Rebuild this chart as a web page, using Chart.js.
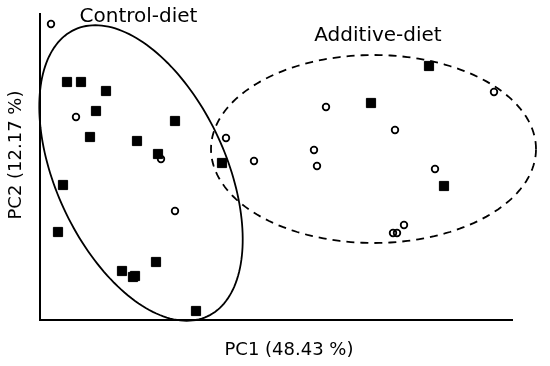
<!DOCTYPE html>
<html>
<head>
<meta charset="utf-8">
<script src="https://cdn.jsdelivr.net/npm/chart.js@4/dist/chart.umd.min.js"></script>
<style>
  html, body { margin: 0; padding: 0; background: #fff; }
  #wrap { width: 550px; height: 366px; }
</style>
</head>
<body>
<div id="wrap"><canvas id="pca"></canvas></div>
<script>
// PC scores (arbitrary units, origin at the axes corner)
const squaresPC1 = [2.7, 4.1, 6.6, 5.6, 5.0, 13.5, 9.7, 11.8, 18.2, 2.3, 1.8, 8.2, 9.3, 9.5, 11.6, 15.6, 33.1, 38.9, 40.4];
const squaresPC2 = [23.8, 23.8, 22.9, 20.9, 18.3, 19.9, 17.9, 16.6, 15.7, 13.5, 8.8, 4.9, 4.3, 4.4, 5.8, 0.9, 21.7, 25.4, 13.4];
const circlesPC1 = [1.1, 3.6, 12.1, 18.6, 21.4, 13.5, 28.6, 35.5, 27.4, 27.7, 39.5, 45.4, 35.3, 35.7, 36.4];
const circlesPC2 = [29.6, 20.3, 16.1, 18.2, 15.9, 10.9, 21.3, 19.0, 17.0, 15.4, 15.1, 22.8, 8.7, 8.7, 9.5];

// group ellipses: centre, semi-axes and tilt (degrees) in PC units
const groupNames = ["Control-diet", "Additive-diet"];
const ellipseCentre = [[10.1, 14.7], [33.35, 17.1]];
const ellipseAxes = [[15.8, 8.5], [16.25, 9.4]];
const ellipseTilt = [114.8, 0];

const axisTitles = ["PC1 (48.43 %)", "PC2 (12.17 %)"];

const pts = (xs, ys) => xs.map((x, i) => ({ x, y: ys[i] }));

const decor = {
    id: "decor",
    beforeDatasetsDraw(chart) {
        const ctx = chart.ctx;
        const sx = chart.scales.x, sy = chart.scales.y;
        ctx.save();
        ctx.strokeStyle = "#000";
        ctx.lineWidth = 1.8;
        ellipseCentre.forEach((c, k) => {
            const [a, b] = ellipseAxes[k];
            const th = ellipseTilt[k] * Math.PI / 180;
            ctx.setLineDash(k === 1 ? [8, 6] : []);
            ctx.beginPath();
            for (let i = 0; i <= 180; i++) {
                const t = (i / 180) * Math.PI * 2;
                const u = a * Math.cos(t), v = b * Math.sin(t);
                const px = sx.getPixelForValue(c[0] + u * Math.cos(th) - v * Math.sin(th));
                const py = sy.getPixelForValue(c[1] + u * Math.sin(th) + v * Math.cos(th));
                if (i === 0) ctx.moveTo(px, py); else ctx.lineTo(px, py);
            }
            ctx.closePath();
            ctx.stroke();
        });
        ctx.restore();
    },
    afterDraw(chart) {
        const ctx = chart.ctx;
        const area = chart.chartArea;
        const sx = chart.scales.x, sy = chart.scales.y;
        ctx.save();
        ctx.fillStyle = "#000";
        ctx.textAlign = "center";
        ctx.textBaseline = "middle";

        ctx.font = "20px 'DejaVu Sans'";
        ctx.fillText(groupNames[0], sx.getPixelForValue(9.85), sy.getPixelForValue(30.3));
        ctx.fillText(groupNames[1], sx.getPixelForValue(33.8), sy.getPixelForValue(28.4));

        ctx.font = "18px 'DejaVu Sans'";
        ctx.fillText(axisTitles[0], area.left + 249, area.bottom + 30);
        ctx.translate(area.left - 24, area.top + 141);
        ctx.rotate(-Math.PI / 2);
        ctx.fillText(axisTitles[1], 0, 0);
        ctx.restore();
    }
};

new Chart(document.getElementById("pca").getContext("2d"), {
    type: "scatter",
    data: {
        datasets: [
            {
                label: "squares",
                data: pts(squaresPC1, squaresPC2),
                pointStyle: "rect",
                pointRadius: 6.5,
                backgroundColor: "#000",
                borderColor: "#000",
                borderWidth: 1,
            },
            {
                label: "circles",
                data: pts(circlesPC1, circlesPC2),
                pointStyle: "circle",
                pointRadius: 3.3,
                backgroundColor: "rgba(0,0,0,0)",
                borderColor: "#000",
                borderWidth: 1.8,
            },
        ],
    },
    options: {
        responsive: true,
        maintainAspectRatio: false,
        animation: false,
        layout: { padding: { left: 40, top: 14, right: 38, bottom: 46 } },
        plugins: { legend: { display: false }, tooltip: { enabled: false } },
        scales: {
            x: {
                type: "linear",
                min: 0,
                max: 47.2,
                ticks: { display: false },
                grid: { display: false, drawTicks: false },
                border: { display: true, color: "#000", width: 2 },
            },
            y: {
                type: "linear",
                min: 0,
                max: 30.6,
                ticks: { display: false },
                grid: { display: false, drawTicks: false },
                border: { display: true, color: "#000", width: 2 },
            },
        },
    },
    plugins: [decor],
});
</script>
</body>
</html>
